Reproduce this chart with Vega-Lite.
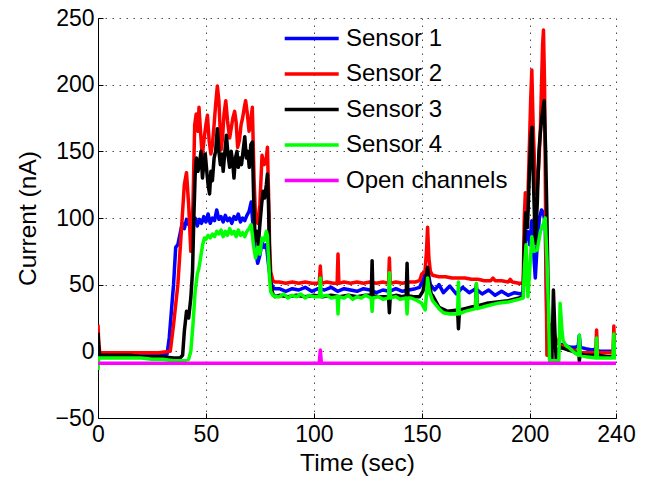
{
  "$schema": "https://vega.github.io/schema/vega-lite/v6.json",
  "width": 518,
  "height": 400,
  "autosize": "none",
  "padding": {"left": 98, "top": 18, "right": 33, "bottom": 63},
  "background": "white",
  "config": {
    "view": {"stroke": null},
    "font": "Liberation Sans",
    "axis": {
      "domainColor": "#000", "domainWidth": 1,
      "tickColor": "#000", "tickSize": -5, "tickWidth": 1,
      "labelColor": "#000", "labelFont": "Liberation Sans", "labelFontSize": 23,
      "labelFlush": false, "labelOverlap": false,
      "titleColor": "#000", "titleFont": "Liberation Sans", "titleFontSize": 24.5, "titleFontWeight": "normal",
      "grid": true, "gridColor": "#222", "gridDash": [1.5, 5.5], "gridWidth": 1, "gridOpacity": 0.8
    }
  },
  "data": {"values": [
    {"s":"Sensor 1","t":0,"v":-1},{"s":"Sensor 1","t":0.5,"v":-2},{"s":"Sensor 1","t":2,"v":-3},{"s":"Sensor 1","t":5,"v":-2},{"s":"Sensor 1","t":10,"v":-3},{"s":"Sensor 1","t":15,"v":-2},{"s":"Sensor 1","t":20,"v":-3},{"s":"Sensor 1","t":25,"v":-2},{"s":"Sensor 1","t":30,"v":-3},{"s":"Sensor 1","t":32,"v":-2},
    {"s":"Sensor 1","t":33,"v":10},{"s":"Sensor 1","t":34,"v":30},{"s":"Sensor 1","t":35,"v":50},{"s":"Sensor 1","t":36,"v":78},{"s":"Sensor 1","t":37,"v":80},{"s":"Sensor 1","t":38,"v":88},{"s":"Sensor 1","t":39,"v":96},{"s":"Sensor 1","t":40,"v":92},{"s":"Sensor 1","t":41,"v":99},{"s":"Sensor 1","t":42,"v":95},{"s":"Sensor 1","t":43,"v":102},
    {"s":"Sensor 1","t":44,"v":97},{"s":"Sensor 1","t":45,"v":100},{"s":"Sensor 1","t":46,"v":94},{"s":"Sensor 1","t":47,"v":99},{"s":"Sensor 1","t":48,"v":96},{"s":"Sensor 1","t":49,"v":101},{"s":"Sensor 1","t":50,"v":97},{"s":"Sensor 1","t":51,"v":103},{"s":"Sensor 1","t":52,"v":96},{"s":"Sensor 1","t":53,"v":100},{"s":"Sensor 1","t":54,"v":98},{"s":"Sensor 1","t":55,"v":106},{"s":"Sensor 1","t":56,"v":99},{"s":"Sensor 1","t":57,"v":101},{"s":"Sensor 1","t":58,"v":97},{"s":"Sensor 1","t":59,"v":102},{"s":"Sensor 1","t":60,"v":98},{"s":"Sensor 1","t":61,"v":100},{"s":"Sensor 1","t":62,"v":96},{"s":"Sensor 1","t":63,"v":101},{"s":"Sensor 1","t":64,"v":99},{"s":"Sensor 1","t":65,"v":103},{"s":"Sensor 1","t":66,"v":97},{"s":"Sensor 1","t":67,"v":100},{"s":"Sensor 1","t":68,"v":98},{"s":"Sensor 1","t":69,"v":102},{"s":"Sensor 1","t":70,"v":105},{"s":"Sensor 1","t":71,"v":112},{"s":"Sensor 1","t":72,"v":90},{"s":"Sensor 1","t":73,"v":75},{"s":"Sensor 1","t":74,"v":66},{"s":"Sensor 1","t":75,"v":72},{"s":"Sensor 1","t":76,"v":82},{"s":"Sensor 1","t":77,"v":78},{"s":"Sensor 1","t":78,"v":80},{"s":"Sensor 1","t":79,"v":65},{"s":"Sensor 1","t":80,"v":52},{"s":"Sensor 1","t":81,"v":48},{"s":"Sensor 1","t":82,"v":47},
    {"s":"Sensor 1","t":84,"v":47},{"s":"Sensor 1","t":87,"v":45},{"s":"Sensor 1","t":90,"v":47},{"s":"Sensor 1","t":93,"v":46},{"s":"Sensor 1","t":96,"v":48},{"s":"Sensor 1","t":99,"v":45},{"s":"Sensor 1","t":102,"v":47},{"s":"Sensor 1","t":105,"v":46},{"s":"Sensor 1","t":108,"v":48},{"s":"Sensor 1","t":111,"v":45},{"s":"Sensor 1","t":114,"v":47},{"s":"Sensor 1","t":117,"v":46},{"s":"Sensor 1","t":120,"v":45},{"s":"Sensor 1","t":123,"v":47},{"s":"Sensor 1","t":126,"v":46},{"s":"Sensor 1","t":129,"v":44},{"s":"Sensor 1","t":132,"v":46},{"s":"Sensor 1","t":135,"v":45},{"s":"Sensor 1","t":138,"v":47},{"s":"Sensor 1","t":141,"v":45},{"s":"Sensor 1","t":144,"v":46},{"s":"Sensor 1","t":147,"v":47},{"s":"Sensor 1","t":149,"v":48},{"s":"Sensor 1","t":151,"v":55},{"s":"Sensor 1","t":152,"v":62},{"s":"Sensor 1","t":153,"v":58},{"s":"Sensor 1","t":154,"v":50},{"s":"Sensor 1","t":156,"v":46},{"s":"Sensor 1","t":158,"v":50},{"s":"Sensor 1","t":160,"v":44},{"s":"Sensor 1","t":163,"v":49},{"s":"Sensor 1","t":166,"v":43},{"s":"Sensor 1","t":169,"v":48},{"s":"Sensor 1","t":172,"v":44},{"s":"Sensor 1","t":175,"v":47},{"s":"Sensor 1","t":178,"v":43},{"s":"Sensor 1","t":181,"v":46},{"s":"Sensor 1","t":184,"v":42},{"s":"Sensor 1","t":187,"v":45},{"s":"Sensor 1","t":190,"v":42},{"s":"Sensor 1","t":193,"v":44},{"s":"Sensor 1","t":196,"v":43},{"s":"Sensor 1","t":197,"v":45},
    {"s":"Sensor 1","t":197.5,"v":70},{"s":"Sensor 1","t":198,"v":83},{"s":"Sensor 1","t":199,"v":90},{"s":"Sensor 1","t":200,"v":80},{"s":"Sensor 1","t":201,"v":98},{"s":"Sensor 1","t":202,"v":70},{"s":"Sensor 1","t":202.6,"v":55},{"s":"Sensor 1","t":203.5,"v":80},{"s":"Sensor 1","t":204.5,"v":100},{"s":"Sensor 1","t":205.5,"v":106},{"s":"Sensor 1","t":206.4,"v":104},{"s":"Sensor 1","t":207.2,"v":95},{"s":"Sensor 1","t":208,"v":20},{"s":"Sensor 1","t":208.5,"v":8},{"s":"Sensor 1","t":209.5,"v":10},{"s":"Sensor 1","t":211,"v":7},{"s":"Sensor 1","t":213,"v":6},{"s":"Sensor 1","t":215,"v":5},{"s":"Sensor 1","t":217,"v":4},{"s":"Sensor 1","t":219,"v":3},{"s":"Sensor 1","t":221,"v":3},{"s":"Sensor 1","t":222.5,"v":4},{"s":"Sensor 1","t":223,"v":12},{"s":"Sensor 1","t":223.5,"v":3},{"s":"Sensor 1","t":226,"v":2},{"s":"Sensor 1","t":229,"v":1},{"s":"Sensor 1","t":231,"v":2},{"s":"Sensor 1","t":232,"v":0},{"s":"Sensor 1","t":235,"v":0},{"s":"Sensor 1","t":238,"v":0},{"s":"Sensor 1","t":240,"v":-1},

    {"s":"Sensor 2","t":0,"v":20},{"s":"Sensor 2","t":0.3,"v":8},{"s":"Sensor 2","t":0.8,"v":-1},{"s":"Sensor 2","t":3,"v":-1},{"s":"Sensor 2","t":8,"v":-1},{"s":"Sensor 2","t":13,"v":-1},{"s":"Sensor 2","t":18,"v":-1},{"s":"Sensor 2","t":23,"v":-1},{"s":"Sensor 2","t":28,"v":-1},{"s":"Sensor 2","t":33.5,"v":0},{"s":"Sensor 2","t":35,"v":20},{"s":"Sensor 2","t":37,"v":50},{"s":"Sensor 2","t":38,"v":75},{"s":"Sensor 2","t":39,"v":100},{"s":"Sensor 2","t":40,"v":125},{"s":"Sensor 2","t":41,"v":134},{"s":"Sensor 2","t":42,"v":110},{"s":"Sensor 2","t":43,"v":75},{"s":"Sensor 2","t":44,"v":110},
    {"s":"Sensor 2","t":44.8,"v":170},{"s":"Sensor 2","t":45.5,"v":178},{"s":"Sensor 2","t":46.3,"v":165},{"s":"Sensor 2","t":46.8,"v":183},{"s":"Sensor 2","t":47.5,"v":165},{"s":"Sensor 2","t":48.3,"v":146},{"s":"Sensor 2","t":49.2,"v":160},{"s":"Sensor 2","t":50,"v":170},{"s":"Sensor 2","t":50.7,"v":177},{"s":"Sensor 2","t":51.5,"v":158},{"s":"Sensor 2","t":52.3,"v":148},{"s":"Sensor 2","t":53,"v":155},{"s":"Sensor 2","t":53.8,"v":170},{"s":"Sensor 2","t":54.5,"v":185},{"s":"Sensor 2","t":55.3,"v":199},{"s":"Sensor 2","t":56,"v":188},{"s":"Sensor 2","t":56.5,"v":170},{"s":"Sensor 2","t":57,"v":151},{"s":"Sensor 2","t":57.7,"v":160},{"s":"Sensor 2","t":58.4,"v":178},{"s":"Sensor 2","t":59.2,"v":188},{"s":"Sensor 2","t":60,"v":173},{"s":"Sensor 2","t":61,"v":160},{"s":"Sensor 2","t":61.8,"v":168},{"s":"Sensor 2","t":62.5,"v":175},{"s":"Sensor 2","t":63.3,"v":180},{"s":"Sensor 2","t":64,"v":172},{"s":"Sensor 2","t":64.7,"v":153},{"s":"Sensor 2","t":65.5,"v":158},{"s":"Sensor 2","t":66.3,"v":170},{"s":"Sensor 2","t":67,"v":175},{"s":"Sensor 2","t":67.7,"v":182},{"s":"Sensor 2","t":68.4,"v":188},{"s":"Sensor 2","t":69.2,"v":178},{"s":"Sensor 2","t":70,"v":165},{"s":"Sensor 2","t":70.7,"v":172},{"s":"Sensor 2","t":71.5,"v":183},{"s":"Sensor 2","t":72.3,"v":130},{"s":"Sensor 2","t":73,"v":100},{"s":"Sensor 2","t":74,"v":96},{"s":"Sensor 2","t":75,"v":110},{"s":"Sensor 2","t":76,"v":147},{"s":"Sensor 2","t":77,"v":140},{"s":"Sensor 2","t":78,"v":145},{"s":"Sensor 2","t":78.5,"v":153},{"s":"Sensor 2","t":79,"v":120},{"s":"Sensor 2","t":79.5,"v":80},{"s":"Sensor 2","t":80,"v":60},{"s":"Sensor 2","t":81,"v":53},{"s":"Sensor 2","t":82,"v":52},
    {"s":"Sensor 2","t":84,"v":52},{"s":"Sensor 2","t":87,"v":51},{"s":"Sensor 2","t":90,"v":52},{"s":"Sensor 2","t":93,"v":51},{"s":"Sensor 2","t":96,"v":52},{"s":"Sensor 2","t":99,"v":51},{"s":"Sensor 2","t":102.5,"v":51},{"s":"Sensor 2","t":103,"v":64},{"s":"Sensor 2","t":103.5,"v":51},{"s":"Sensor 2","t":106,"v":52},{"s":"Sensor 2","t":109,"v":51},{"s":"Sensor 2","t":110.8,"v":51},{"s":"Sensor 2","t":111.2,"v":73},{"s":"Sensor 2","t":111.6,"v":51},{"s":"Sensor 2","t":114,"v":52},{"s":"Sensor 2","t":117,"v":51},{"s":"Sensor 2","t":120,"v":52},{"s":"Sensor 2","t":123,"v":51},{"s":"Sensor 2","t":126,"v":52},{"s":"Sensor 2","t":129,"v":51},{"s":"Sensor 2","t":132,"v":52},{"s":"Sensor 2","t":134.6,"v":51},{"s":"Sensor 2","t":135,"v":70},{"s":"Sensor 2","t":135.4,"v":51},{"s":"Sensor 2","t":138,"v":52},{"s":"Sensor 2","t":141,"v":51},{"s":"Sensor 2","t":144,"v":52},{"s":"Sensor 2","t":147,"v":52},{"s":"Sensor 2","t":149,"v":53},{"s":"Sensor 2","t":150,"v":58},{"s":"Sensor 2","t":151.5,"v":60},{"s":"Sensor 2","t":152.2,"v":75},{"s":"Sensor 2","t":152.7,"v":93},{"s":"Sensor 2","t":153.3,"v":70},{"s":"Sensor 2","t":154,"v":60},{"s":"Sensor 2","t":155,"v":57},{"s":"Sensor 2","t":158,"v":56},{"s":"Sensor 2","t":161,"v":56},{"s":"Sensor 2","t":164,"v":55},{"s":"Sensor 2","t":167,"v":55},{"s":"Sensor 2","t":170,"v":55},{"s":"Sensor 2","t":173,"v":54},{"s":"Sensor 2","t":176,"v":54},{"s":"Sensor 2","t":179,"v":53},{"s":"Sensor 2","t":182,"v":53},{"s":"Sensor 2","t":183,"v":55},{"s":"Sensor 2","t":184,"v":53},{"s":"Sensor 2","t":187,"v":53},{"s":"Sensor 2","t":190,"v":52},{"s":"Sensor 2","t":191,"v":54},{"s":"Sensor 2","t":192,"v":52},{"s":"Sensor 2","t":195,"v":51},{"s":"Sensor 2","t":197,"v":51},
    {"s":"Sensor 2","t":197.5,"v":100},{"s":"Sensor 2","t":198,"v":119},{"s":"Sensor 2","t":199,"v":105},{"s":"Sensor 2","t":199.8,"v":150},{"s":"Sensor 2","t":200.5,"v":190},{"s":"Sensor 2","t":201,"v":211},{"s":"Sensor 2","t":201.6,"v":170},{"s":"Sensor 2","t":202.5,"v":130},{"s":"Sensor 2","t":203.3,"v":118},{"s":"Sensor 2","t":204.2,"v":140},{"s":"Sensor 2","t":204.9,"v":163},{"s":"Sensor 2","t":205.5,"v":200},{"s":"Sensor 2","t":206,"v":230},{"s":"Sensor 2","t":206.4,"v":241},{"s":"Sensor 2","t":206.9,"v":200},{"s":"Sensor 2","t":207.5,"v":80},{"s":"Sensor 2","t":208,"v":-3},{"s":"Sensor 2","t":208.6,"v":-3},{"s":"Sensor 2","t":209.3,"v":15},{"s":"Sensor 2","t":210,"v":20},{"s":"Sensor 2","t":211,"v":14},{"s":"Sensor 2","t":212,"v":10},{"s":"Sensor 2","t":213,"v":7},{"s":"Sensor 2","t":214,"v":5},{"s":"Sensor 2","t":216,"v":3},{"s":"Sensor 2","t":218,"v":2},{"s":"Sensor 2","t":220,"v":1},{"s":"Sensor 2","t":222,"v":0},{"s":"Sensor 2","t":224,"v":-1},{"s":"Sensor 2","t":227,"v":-1},{"s":"Sensor 2","t":230.6,"v":-1},{"s":"Sensor 2","t":231,"v":16},{"s":"Sensor 2","t":231.4,"v":-1},{"s":"Sensor 2","t":234,"v":-1},{"s":"Sensor 2","t":238.6,"v":-1},{"s":"Sensor 2","t":239,"v":19},{"s":"Sensor 2","t":239.4,"v":-1},{"s":"Sensor 2","t":240,"v":-1},

    {"s":"Sensor 3","t":0,"v":14},{"s":"Sensor 3","t":0.3,"v":5},{"s":"Sensor 3","t":0.8,"v":-3},{"s":"Sensor 3","t":5,"v":-3},{"s":"Sensor 3","t":10,"v":-3},{"s":"Sensor 3","t":15,"v":-3},{"s":"Sensor 3","t":20,"v":-4},{"s":"Sensor 3","t":25,"v":-4},{"s":"Sensor 3","t":30,"v":-4},{"s":"Sensor 3","t":35,"v":-5},{"s":"Sensor 3","t":38,"v":-5},{"s":"Sensor 3","t":39.2,"v":-3},{"s":"Sensor 3","t":40,"v":15},{"s":"Sensor 3","t":41,"v":30},{"s":"Sensor 3","t":42,"v":25},{"s":"Sensor 3","t":43,"v":40},{"s":"Sensor 3","t":43.8,"v":60},{"s":"Sensor 3","t":44.4,"v":100},
    {"s":"Sensor 3","t":45,"v":132},{"s":"Sensor 3","t":45.6,"v":145},{"s":"Sensor 3","t":46.3,"v":135},{"s":"Sensor 3","t":47,"v":140},{"s":"Sensor 3","t":47.7,"v":150},{"s":"Sensor 3","t":48.4,"v":130},{"s":"Sensor 3","t":49,"v":140},{"s":"Sensor 3","t":49.7,"v":148},{"s":"Sensor 3","t":50.4,"v":135},{"s":"Sensor 3","t":51,"v":125},{"s":"Sensor 3","t":51.7,"v":118},{"s":"Sensor 3","t":52.3,"v":135},{"s":"Sensor 3","t":53,"v":128},{"s":"Sensor 3","t":53.8,"v":145},{"s":"Sensor 3","t":54.5,"v":150},{"s":"Sensor 3","t":55.3,"v":167},{"s":"Sensor 3","t":56,"v":150},{"s":"Sensor 3","t":56.7,"v":140},{"s":"Sensor 3","t":57.4,"v":148},{"s":"Sensor 3","t":58,"v":135},{"s":"Sensor 3","t":58.8,"v":150},{"s":"Sensor 3","t":59.5,"v":162},{"s":"Sensor 3","t":60.2,"v":148},{"s":"Sensor 3","t":61,"v":138},{"s":"Sensor 3","t":61.7,"v":150},{"s":"Sensor 3","t":62.4,"v":142},{"s":"Sensor 3","t":63,"v":130},{"s":"Sensor 3","t":63.7,"v":145},{"s":"Sensor 3","t":64.4,"v":150},{"s":"Sensor 3","t":65,"v":138},{"s":"Sensor 3","t":65.8,"v":145},{"s":"Sensor 3","t":66.5,"v":140},{"s":"Sensor 3","t":67.2,"v":150},{"s":"Sensor 3","t":68,"v":161},{"s":"Sensor 3","t":68.7,"v":145},{"s":"Sensor 3","t":69.4,"v":150},{"s":"Sensor 3","t":70.1,"v":138},{"s":"Sensor 3","t":70.8,"v":155},{"s":"Sensor 3","t":71.5,"v":157},{"s":"Sensor 3","t":72.2,"v":110},{"s":"Sensor 3","t":72.8,"v":83},{"s":"Sensor 3","t":73.5,"v":90},{"s":"Sensor 3","t":74.3,"v":80},{"s":"Sensor 3","t":75,"v":95},{"s":"Sensor 3","t":75.8,"v":110},{"s":"Sensor 3","t":76.5,"v":120},{"s":"Sensor 3","t":77.2,"v":115},{"s":"Sensor 3","t":78,"v":125},{"s":"Sensor 3","t":78.5,"v":133},{"s":"Sensor 3","t":79,"v":110},{"s":"Sensor 3","t":79.5,"v":70},{"s":"Sensor 3","t":80,"v":50},{"s":"Sensor 3","t":81,"v":43},{"s":"Sensor 3","t":82,"v":41},
    {"s":"Sensor 3","t":84,"v":42},{"s":"Sensor 3","t":88,"v":41},{"s":"Sensor 3","t":92,"v":42},{"s":"Sensor 3","t":96,"v":41},{"s":"Sensor 3","t":100,"v":42},{"s":"Sensor 3","t":104,"v":41},{"s":"Sensor 3","t":108,"v":42},{"s":"Sensor 3","t":112,"v":41},{"s":"Sensor 3","t":116,"v":42},{"s":"Sensor 3","t":120,"v":41},{"s":"Sensor 3","t":124,"v":42},{"s":"Sensor 3","t":126.6,"v":42},{"s":"Sensor 3","t":127,"v":68},{"s":"Sensor 3","t":127.4,"v":42},{"s":"Sensor 3","t":130,"v":41},{"s":"Sensor 3","t":134.6,"v":41},{"s":"Sensor 3","t":135,"v":29},{"s":"Sensor 3","t":135.4,"v":41},{"s":"Sensor 3","t":138,"v":42},{"s":"Sensor 3","t":141,"v":41},{"s":"Sensor 3","t":142.8,"v":42},{"s":"Sensor 3","t":143.2,"v":66},{"s":"Sensor 3","t":143.6,"v":42},{"s":"Sensor 3","t":146,"v":41},{"s":"Sensor 3","t":149,"v":41},{"s":"Sensor 3","t":150.5,"v":45},{"s":"Sensor 3","t":152,"v":55},{"s":"Sensor 3","t":152.7,"v":63},{"s":"Sensor 3","t":153.4,"v":52},{"s":"Sensor 3","t":154.5,"v":42},{"s":"Sensor 3","t":155,"v":42},{"s":"Sensor 3","t":158,"v":33},{"s":"Sensor 3","t":162,"v":30},{"s":"Sensor 3","t":166.6,"v":31},{"s":"Sensor 3","t":167,"v":17},{"s":"Sensor 3","t":167.5,"v":31},{"s":"Sensor 3","t":170,"v":32},{"s":"Sensor 3","t":174.9,"v":34},{"s":"Sensor 3","t":175.3,"v":50},{"s":"Sensor 3","t":175.7,"v":34},{"s":"Sensor 3","t":180,"v":36},{"s":"Sensor 3","t":185,"v":37},{"s":"Sensor 3","t":190,"v":38},{"s":"Sensor 3","t":195,"v":40},{"s":"Sensor 3","t":197,"v":41},
    {"s":"Sensor 3","t":197.5,"v":80},{"s":"Sensor 3","t":198.2,"v":104},{"s":"Sensor 3","t":199,"v":93},{"s":"Sensor 3","t":199.8,"v":130},{"s":"Sensor 3","t":200.5,"v":160},{"s":"Sensor 3","t":201.1,"v":168},{"s":"Sensor 3","t":201.7,"v":130},{"s":"Sensor 3","t":202.6,"v":81},{"s":"Sensor 3","t":203.5,"v":110},{"s":"Sensor 3","t":204.3,"v":150},{"s":"Sensor 3","t":204.9,"v":163},{"s":"Sensor 3","t":205.6,"v":175},{"s":"Sensor 3","t":206.7,"v":188},{"s":"Sensor 3","t":207.4,"v":150},{"s":"Sensor 3","t":208,"v":100},{"s":"Sensor 3","t":208.7,"v":30},{"s":"Sensor 3","t":209.3,"v":-7},{"s":"Sensor 3","t":210.3,"v":-7},{"s":"Sensor 3","t":211,"v":46},{"s":"Sensor 3","t":211.8,"v":10},{"s":"Sensor 3","t":212.3,"v":-7},{"s":"Sensor 3","t":213,"v":0},{"s":"Sensor 3","t":214,"v":3},{"s":"Sensor 3","t":216,"v":2},{"s":"Sensor 3","t":218,"v":1},{"s":"Sensor 3","t":220,"v":0},{"s":"Sensor 3","t":222,"v":-2},{"s":"Sensor 3","t":222.8,"v":-2},{"s":"Sensor 3","t":223,"v":-7},{"s":"Sensor 3","t":223.4,"v":-2},{"s":"Sensor 3","t":226,"v":-3},{"s":"Sensor 3","t":229,"v":-3},{"s":"Sensor 3","t":232,"v":-3},{"s":"Sensor 3","t":236,"v":-4},{"s":"Sensor 3","t":240,"v":-4},

    {"s":"Sensor 4","t":0,"v":-14},{"s":"Sensor 4","t":0.3,"v":-5},{"s":"Sensor 4","t":1,"v":-5},{"s":"Sensor 4","t":5,"v":-5},{"s":"Sensor 4","t":10,"v":-5},{"s":"Sensor 4","t":15,"v":-5},{"s":"Sensor 4","t":20,"v":-5},{"s":"Sensor 4","t":25,"v":-6},{"s":"Sensor 4","t":30,"v":-6},{"s":"Sensor 4","t":35,"v":-7},{"s":"Sensor 4","t":40,"v":-7},{"s":"Sensor 4","t":42,"v":-6},{"s":"Sensor 4","t":43,"v":0},{"s":"Sensor 4","t":44,"v":20},{"s":"Sensor 4","t":45,"v":45},{"s":"Sensor 4","t":46,"v":58},{"s":"Sensor 4","t":46.7,"v":62},{"s":"Sensor 4","t":47.5,"v":70},{"s":"Sensor 4","t":48.5,"v":80},{"s":"Sensor 4","t":49.3,"v":85},{"s":"Sensor 4","t":50,"v":84},{"s":"Sensor 4","t":51,"v":87},{"s":"Sensor 4","t":52,"v":85},{"s":"Sensor 4","t":53,"v":88},{"s":"Sensor 4","t":54,"v":86},{"s":"Sensor 4","t":55,"v":90},{"s":"Sensor 4","t":56,"v":88},{"s":"Sensor 4","t":57,"v":91},{"s":"Sensor 4","t":58,"v":86},{"s":"Sensor 4","t":59,"v":90},{"s":"Sensor 4","t":60,"v":87},{"s":"Sensor 4","t":61,"v":92},{"s":"Sensor 4","t":62,"v":88},{"s":"Sensor 4","t":63,"v":90},{"s":"Sensor 4","t":64,"v":86},{"s":"Sensor 4","t":65,"v":91},{"s":"Sensor 4","t":66,"v":87},{"s":"Sensor 4","t":67,"v":89},{"s":"Sensor 4","t":68,"v":86},{"s":"Sensor 4","t":69,"v":90},{"s":"Sensor 4","t":70,"v":92},{"s":"Sensor 4","t":71,"v":95},{"s":"Sensor 4","t":72,"v":80},{"s":"Sensor 4","t":73,"v":70},{"s":"Sensor 4","t":74,"v":78},{"s":"Sensor 4","t":75,"v":73},{"s":"Sensor 4","t":76,"v":85},{"s":"Sensor 4","t":77,"v":83},{"s":"Sensor 4","t":78,"v":90},{"s":"Sensor 4","t":78.5,"v":87},{"s":"Sensor 4","t":79,"v":70},{"s":"Sensor 4","t":79.5,"v":55},{"s":"Sensor 4","t":80,"v":45},{"s":"Sensor 4","t":81,"v":42},{"s":"Sensor 4","t":82,"v":41},
    {"s":"Sensor 4","t":84,"v":41},{"s":"Sensor 4","t":86,"v":43},{"s":"Sensor 4","t":88,"v":40},{"s":"Sensor 4","t":90,"v":42},{"s":"Sensor 4","t":92,"v":41},{"s":"Sensor 4","t":94,"v":43},{"s":"Sensor 4","t":96,"v":40},{"s":"Sensor 4","t":98,"v":42},{"s":"Sensor 4","t":100,"v":41},{"s":"Sensor 4","t":102.6,"v":41},{"s":"Sensor 4","t":103,"v":55},{"s":"Sensor 4","t":103.4,"v":41},{"s":"Sensor 4","t":106,"v":42},{"s":"Sensor 4","t":108,"v":40},{"s":"Sensor 4","t":110.8,"v":41},{"s":"Sensor 4","t":111.2,"v":28},{"s":"Sensor 4","t":111.6,"v":41},{"s":"Sensor 4","t":114,"v":40},{"s":"Sensor 4","t":116,"v":42},{"s":"Sensor 4","t":118,"v":39},{"s":"Sensor 4","t":120,"v":41},{"s":"Sensor 4","t":122,"v":40},{"s":"Sensor 4","t":124,"v":42},{"s":"Sensor 4","t":126.6,"v":40},{"s":"Sensor 4","t":127,"v":30},{"s":"Sensor 4","t":127.4,"v":40},{"s":"Sensor 4","t":130,"v":41},{"s":"Sensor 4","t":132,"v":39},{"s":"Sensor 4","t":134.6,"v":40},{"s":"Sensor 4","t":135,"v":59},{"s":"Sensor 4","t":135.4,"v":40},{"s":"Sensor 4","t":138,"v":41},{"s":"Sensor 4","t":140,"v":39},{"s":"Sensor 4","t":142.8,"v":40},{"s":"Sensor 4","t":143.2,"v":28},{"s":"Sensor 4","t":143.6,"v":40},{"s":"Sensor 4","t":145,"v":40},{"s":"Sensor 4","t":148,"v":38},{"s":"Sensor 4","t":150,"v":36},{"s":"Sensor 4","t":151.6,"v":31},{"s":"Sensor 4","t":152.3,"v":45},{"s":"Sensor 4","t":152.7,"v":55},{"s":"Sensor 4","t":153.5,"v":45},{"s":"Sensor 4","t":155,"v":38},{"s":"Sensor 4","t":158,"v":32},{"s":"Sensor 4","t":160,"v":29},{"s":"Sensor 4","t":163,"v":28},{"s":"Sensor 4","t":166.6,"v":28},{"s":"Sensor 4","t":167,"v":52},{"s":"Sensor 4","t":167.4,"v":28},{"s":"Sensor 4","t":170,"v":30},{"s":"Sensor 4","t":174.9,"v":32},{"s":"Sensor 4","t":175.3,"v":51},{"s":"Sensor 4","t":175.7,"v":32},{"s":"Sensor 4","t":180,"v":34},{"s":"Sensor 4","t":185,"v":36},{"s":"Sensor 4","t":190,"v":37},{"s":"Sensor 4","t":195,"v":39},{"s":"Sensor 4","t":197,"v":40},
    {"s":"Sensor 4","t":197.5,"v":60},{"s":"Sensor 4","t":198.3,"v":80},{"s":"Sensor 4","t":199.2,"v":41},{"s":"Sensor 4","t":200,"v":60},{"s":"Sensor 4","t":201,"v":86},{"s":"Sensor 4","t":202,"v":75},{"s":"Sensor 4","t":203.5,"v":76},{"s":"Sensor 4","t":205,"v":90},{"s":"Sensor 4","t":206.2,"v":95},{"s":"Sensor 4","t":207.2,"v":100},{"s":"Sensor 4","t":208,"v":70},{"s":"Sensor 4","t":208.7,"v":31},{"s":"Sensor 4","t":209.2,"v":-7},{"s":"Sensor 4","t":213.5,"v":-7},{"s":"Sensor 4","t":214.1,"v":36},{"s":"Sensor 4","t":215,"v":15},{"s":"Sensor 4","t":215.5,"v":8},{"s":"Sensor 4","t":217,"v":4},{"s":"Sensor 4","t":218,"v":3},{"s":"Sensor 4","t":220,"v":0},{"s":"Sensor 4","t":222.6,"v":-3},{"s":"Sensor 4","t":223,"v":12},{"s":"Sensor 4","t":223.4,"v":-3},{"s":"Sensor 4","t":226,"v":-4},{"s":"Sensor 4","t":230.6,"v":-5},{"s":"Sensor 4","t":231,"v":10},{"s":"Sensor 4","t":231.4,"v":-5},{"s":"Sensor 4","t":235,"v":-5},{"s":"Sensor 4","t":238.6,"v":-5},{"s":"Sensor 4","t":239,"v":13},{"s":"Sensor 4","t":239.4,"v":-5},{"s":"Sensor 4","t":240,"v":-5},

    {"s":"Open channels","t":0,"v":-9},{"s":"Open channels","t":50,"v":-9},{"s":"Open channels","t":102.5,"v":-9},{"s":"Open channels","t":103,"v":1},{"s":"Open channels","t":103.5,"v":-9},{"s":"Open channels","t":150,"v":-9},{"s":"Open channels","t":200,"v":-9},{"s":"Open channels","t":240,"v":-9}
  ]},
  "mark": {"type": "line", "clip": true, "strokeJoin": "round"},
  "encoding": {
    "x": {"field": "t", "type": "quantitative", "title": "Time (sec)",
      "scale": {"domain": [0, 240], "nice": false},
      "axis": {"values": [0, 50, 100, 150, 200, 240], "labelPadding": 10, "titlePadding": 5}},
    "y": {"field": "v", "type": "quantitative", "title": "Current (nA)",
      "scale": {"domain": [-50, 250], "nice": false},
      "axis": {"values": [-50, 0, 50, 100, 150, 200, 250], "labelPadding": 9, "titlePadding": 14}},
    "color": {"field": "s", "type": "nominal",
      "scale": {"domain": ["Sensor 1", "Sensor 2", "Sensor 3", "Sensor 4", "Open channels"],
                "range": ["#0000ff", "#ff0000", "#000000", "#00ff00", "#ff00ff"]},
      "legend": {"title": null, "orient": "none", "legendX": 201.7, "legendY": 8.5,
        "symbolType": "M-5.4,0H5.4", "symbolSize": 100, "symbolStrokeWidth": 3.5,
        "labelFontSize": 24, "labelFont": "Liberation Sans", "labelColor": "#000", "labelLimit": 0,
        "labelOffset": 22.3, "rowPadding": 11.5, "padding": 0}},
    "strokeWidth": {"field": "s", "type": "ordinal",
      "scale": {"domain": ["Sensor 1", "Sensor 2", "Sensor 3", "Sensor 4", "Open channels"],
                "range": [3.5, 3.5, 3.5, 3.5, 6]},
      "legend": null},
    "order": {"field": "t", "type": "quantitative"}
  }
}
